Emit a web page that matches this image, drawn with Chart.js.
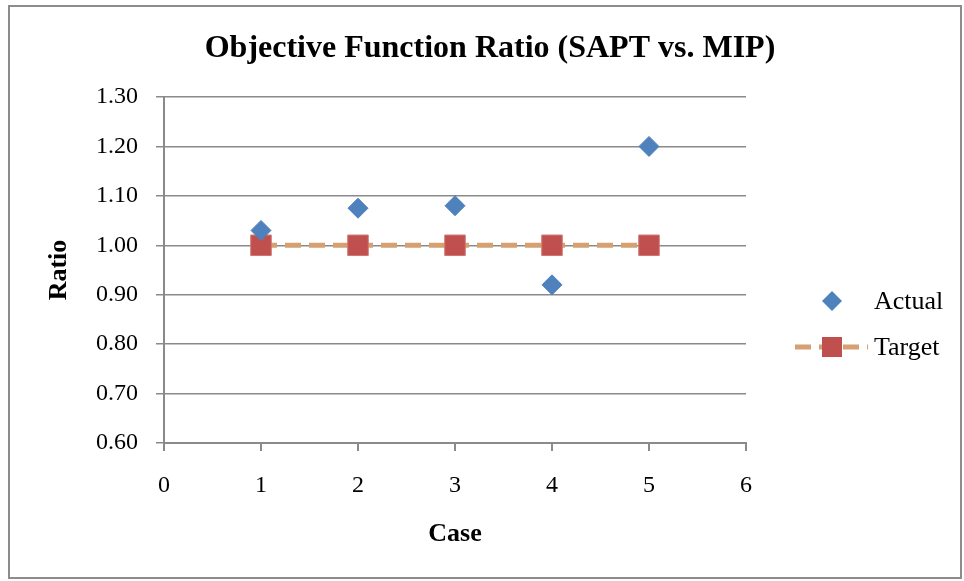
<!DOCTYPE html>
<html>
<head>
<meta charset="utf-8">
<script src="https://cdn.jsdelivr.net/npm/chart.js@4/dist/chart.umd.min.js"></script>
<style>
  html, body { margin: 0; padding: 0; background: #fff; }
  #wrap { width: 964px; height: 581px; }
</style>
</head>
<body>
<div id="wrap"><canvas id="ratioChart" width="964" height="581"></canvas></div>
<script>
// данные графика
const cases = [1, 2, 3, 4, 5];
const actualRatio = [1.03, 1.075, 1.08, 0.92, 1.20];
const targetRatio = [1.00, 1.00, 1.00, 1.00, 1.00];
const seriesNames = ['Actual', 'Target'];
const chartTitle = 'Objective Function Ratio (SAPT vs. MIP)';

const SERIF = "'Liberation Serif', 'Times New Roman', serif";
const GRID = '#8a8a8a';
const BLUE = '#4F81BD';
const RED = '#C0504D';
const TAN = '#D6A070';

// рамка, заголовок и легенда рисуются поверх
const decor = {
    id: 'decor',
    beforeDraw(chart) {
        const ctx = chart.ctx;
        ctx.save();
        ctx.strokeStyle = '#8c8c8c';
        ctx.lineWidth = 2;
        ctx.strokeRect(9, 6, 952, 572);
        ctx.restore();
    },
    afterDraw(chart) {
        const ctx = chart.ctx;
        ctx.save();
        ctx.fillStyle = '#000';
        ctx.font = 'bold 32px ' + SERIF;
        ctx.textAlign = 'center';
        ctx.textBaseline = 'alphabetic';
        ctx.fillText(chartTitle, 490, 57);

        // легенда
        const lx = 832;
        const rows = [301, 347];
        // Actual
        ctx.fillStyle = BLUE;
        ctx.beginPath();
        ctx.moveTo(lx, rows[0] - 10);
        ctx.lineTo(lx + 10, rows[0]);
        ctx.lineTo(lx, rows[0] + 10);
        ctx.lineTo(lx - 10, rows[0]);
        ctx.closePath();
        ctx.fill();
        // Target
        ctx.strokeStyle = TAN;
        ctx.lineWidth = 5;
        ctx.setLineDash([16, 8]);
        ctx.beginPath();
        ctx.moveTo(795, rows[1]);
        ctx.lineTo(868, rows[1]);
        ctx.stroke();
        ctx.setLineDash([]);
        ctx.fillStyle = RED;
        ctx.fillRect(lx - 10, rows[1] - 10, 20, 20);

        ctx.fillStyle = '#000';
        ctx.font = '26px ' + SERIF;
        ctx.textAlign = 'left';
        ctx.textBaseline = 'middle';
        ctx.fillText(seriesNames[0], 874, rows[0] + 1);
        ctx.fillText(seriesNames[1], 874, rows[1] + 1);
        ctx.restore();
    }
};

const ctx = document.getElementById('ratioChart').getContext('2d');
new Chart(ctx, {
    type: 'scatter',
    data: {
        datasets: [{
            label: seriesNames[0],
            data: cases.map((c, i) => ({ x: c, y: actualRatio[i] })),
            pointStyle: 'rectRot',
            pointRadius: 10,
            pointHoverRadius: 10,
            backgroundColor: BLUE,
            borderColor: BLUE,
            borderWidth: 1
        }, {
            label: seriesNames[1],
            data: cases.map((c, i) => ({ x: c, y: targetRatio[i] })),
            showLine: true,
            pointStyle: 'rect',
            pointRadius: 14.5,
            pointHoverRadius: 14.5,
            pointBackgroundColor: RED,
            pointBorderColor: '#cf7674',
            pointBorderWidth: 1,
            borderColor: TAN,
            borderWidth: 5,
            borderDash: [16, 8]
        }]
    },
    options: {
        responsive: false,
        animation: false,
        layout: { padding: { top: 97, right: 218, left: 0, bottom: 0 } },
        plugins: {
            legend: { display: false },
            title: { display: false },
            tooltip: { enabled: false }
        },
        scales: {
            x: {
                type: 'linear',
                min: 0,
                max: 6,
                afterFit(scale) { scale.height = 138; },
                ticks: {
                    stepSize: 1,
                    color: '#000',
                    padding: 20,
                    font: { family: SERIF, size: 24 }
                },
                grid: {
                    display: true,
                    drawOnChartArea: false,
                    drawTicks: true,
                    tickLength: 8,
                    color: GRID,
                    lineWidth: 2
                },
                border: { display: true, color: GRID, width: 2 },
                title: {
                    display: true,
                    text: 'Case',
                    color: '#000',
                    font: { family: SERIF, size: 26, weight: 'bold' },
                    padding: { top: 0, bottom: 31 }
                }
            },
            y: {
                min: 0.6,
                max: 1.3,
                afterFit(scale) { scale.width = 164; },
                ticks: {
                    stepSize: 0.1,
                    color: '#000',
                    padding: 18,
                    font: { family: SERIF, size: 24 },
                    callback: (v) => Number(v).toFixed(2)
                },
                grid: {
                    color: GRID,
                    lineWidth: 1.5,
                    drawTicks: true,
                    tickLength: 8
                },
                border: { display: true, color: GRID, width: 2 },
                title: {
                    display: true,
                    text: 'Ratio',
                    color: '#000',
                    font: { family: SERIF, size: 26, weight: 'bold' },
                    padding: { top: 44, bottom: 0 }
                }
            }
        }
    },
    plugins: [decor]
});
</script>
</body>
</html>
